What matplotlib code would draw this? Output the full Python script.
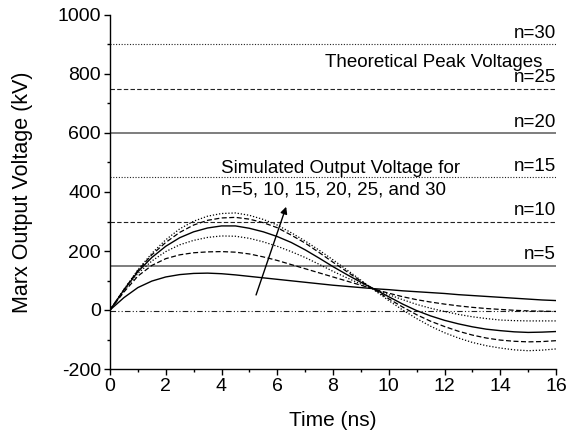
import matplotlib
matplotlib.use("Agg")
import matplotlib.pyplot as plt
from matplotlib.ticker import MultipleLocator

plt.rcParams['font.family'] = ['Liberation Sans', 'DejaVu Sans']
plt.rcParams['axes.unicode_minus'] = False

# ---- data ----
t = [0, 0.5, 1, 1.5, 2, 2.5, 3, 3.5, 4, 4.5, 5, 5.5, 6, 6.5, 7, 7.5, 8,
     8.5, 9, 9.5, 10, 10.5, 11, 11.5, 12, 12.5, 13, 13.5, 14, 14.5, 15, 15.5, 16]

v_n5 = [0, 42, 76, 98, 112, 120, 124, 125, 123, 119, 114, 109, 104, 99, 94, 89, 84,
        80, 76, 72, 69, 65, 62, 59, 56, 52, 49, 46, 43, 40, 37, 34, 32]
v_n10 = [0, 61, 115, 151, 174, 187, 194, 197, 198, 196, 190, 180, 168, 154, 140, 126, 112,
         98, 84, 70, 57, 45, 35, 27, 20, 14, 9, 5, 2, -1, -3, -4, -5]
v_n15 = [0, 65, 124, 166, 198, 221, 236, 246, 251, 250, 243, 231, 216, 198, 178, 155, 131,
         109, 88, 70, 52, 35, 19, 6, -5, -15, -23, -29, -34, -36, -37, -37, -37]
v_n20 = [0, 68, 130, 178, 216, 245, 265, 278, 285, 285, 277, 265, 249, 229, 204, 176, 147,
         120, 94, 70, 45, 20, -2, -20, -35, -47, -57, -65, -70, -74, -76, -75, -73]
v_n25 = [0, 69, 134, 187, 229, 263, 288, 304, 312, 314, 308, 296, 279, 254, 227, 195, 162,
         130, 98, 68, 38, 10, -16, -38, -56, -72, -85, -95, -102, -106, -108, -107, -104]
v_n30 = [0, 70, 136, 192, 238, 275, 301, 318, 327, 329, 321, 307, 288, 262, 234, 203, 170,
         136, 101, 66, 32, 0, -29, -55, -77, -95, -110, -121, -129, -135, -138, -136, -132]

peak_labels = ['n=5', 'n=10', 'n=15', 'n=20', 'n=25', 'n=30']
peak_values = [150, 300, 450, 600, 750, 900]
zero_line = -5

x_ticks = [0, 2, 4, 6, 8, 10, 12, 14, 16]
y_ticks = [-200, 0, 200, 400, 600, 800, 1000]

# ---- styles ----
curve_styles = [
    dict(ls='-', lw=1.0),
    dict(ls=(0, (4, 2)), lw=0.9),
    dict(ls=(0, (1, 1.5)), lw=0.9),
    dict(ls='-', lw=1.0),
    dict(ls=(0, (4, 2)), lw=0.9),
    dict(ls=(0, (1, 1.5)), lw=0.9),
]
ref_styles = [
    dict(ls='-', lw=1.1, color='#5a5a5a'),
    dict(ls=(0, (4, 2)), lw=0.8, color='#222222'),
    dict(ls=(0, (1, 1.5)), lw=0.8, color='#222222'),
    dict(ls='-', lw=1.1, color='#5a5a5a'),
    dict(ls=(0, (4, 2)), lw=0.8, color='#222222'),
    dict(ls=(0, (1, 1.5)), lw=0.8, color='#222222'),
]

fig = plt.figure(figsize=(5.75, 4.37), dpi=100)
ax = fig.add_axes([110 / 575, 1 - 369 / 437, 446 / 575, 354 / 437])

for val, st in zip(peak_values, ref_styles):
    ax.axhline(val, **st)
ax.axhline(zero_line, color='#222222', lw=0.8, ls=(0, (5, 2, 1, 2, 1, 2)))

for vals, st in zip([v_n5, v_n10, v_n15, v_n20, v_n25, v_n30], curve_styles):
    ax.plot(t, vals, color='black', **st)

for lab, val in zip(peak_labels, peak_values):
    ax.text(16, val + 8, lab, ha='right', va='bottom', fontsize=13.5)

ax.text(11.6, 825, 'Theoretical Peak Voltages', ha='center', va='baseline', fontsize=13.5)
ax.text(3.97, 464, 'Simulated Output Voltage for', ha='left', va='baseline', fontsize=13.5)
ax.text(3.97, 393, 'n=5, 10, 15, 20, 25, and 30', ha='left', va='baseline', fontsize=13.5)

ax.annotate('', xy=(6.32, 350), xytext=(5.24, 51),
            arrowprops=dict(arrowstyle='-|>', color='black', lw=1.0,
                            mutation_scale=10, shrinkA=0, shrinkB=0))

ax.set_xlim(0, 16)
ax.set_ylim(-200, 1000)
ax.set_xticks(x_ticks)
ax.set_yticks(y_ticks)
ax.xaxis.set_minor_locator(MultipleLocator(1))
ax.yaxis.set_minor_locator(MultipleLocator(100))
ax.tick_params(which='major', direction='out', length=4.5, width=1, labelsize=14, pad=2)
ax.tick_params(which='minor', direction='out', length=2.5, width=1)
for s in ['top', 'right']:
    ax.spines[s].set_visible(False)
for s in ['left', 'bottom']:
    ax.spines[s].set_linewidth(1.0)

ax.set_xlabel('Time (ns)', fontsize=15)
ax.set_ylabel('Marx Output Voltage (kV)', fontsize=15.5)
ax.xaxis.set_label_coords(0.5, -0.12)
ax.yaxis.set_label_coords(-0.172, 0.5)

fig.savefig('out.png', dpi=100)
